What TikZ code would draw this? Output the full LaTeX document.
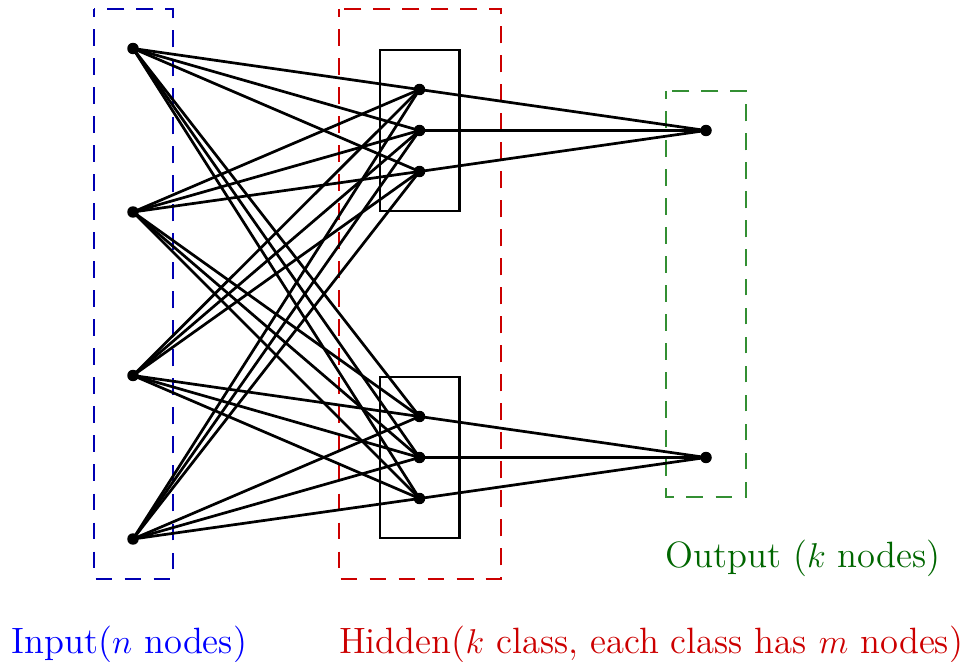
\documentclass[tikz,border=0pt]{standalone}
\usepackage{xcolor}
\begin{document}
\begin{tikzpicture}[x=0.01223cm, y=-0.01223cm,
  dot/.style={circle, fill=black, inner sep=0pt, minimum size=4pt},
  link/.style={line width=0.95pt, black},
  group/.style={line width=1pt, black},
  layerbox/.style={line width=0.7pt, dash pattern=on 5.9pt off 4.2pt, dash phase=3pt},
  caption/.style={inner sep=0pt, anchor=base west, font=\fontsize{12.75}{15}\selectfont}]
  \useasboundingbox (0,0) rectangle (971,662);

  % layer frames
  \draw[layerbox, draw=blue!70!black] (94,9) rectangle (173,579);
  \draw[layerbox, draw=red!80!black] (339,9) rectangle (501,579);
  \draw[layerbox, draw=green!45!black!80] (666,91) rectangle (746,497);

  % class groups in the hidden layer
  \draw[group] (380,50) rectangle (459.5,211);
  \draw[group] (380,377) rectangle (459.5,538);

  % input units
  \node[dot] (i1) at (133,48.5) {};
  \node[dot] (i2) at (133,212) {};
  \node[dot] (i3) at (133,375.5) {};
  \node[dot] (i4) at (133,539) {};

  % hidden units, two classes of three
  \node[dot] (h1) at (419.5,89.5) {};
  \node[dot] (h2) at (419.5,130.5) {};
  \node[dot] (h3) at (419.5,171.5) {};
  \node[dot] (h4) at (419.5,416.5) {};
  \node[dot] (h5) at (419.5,457.5) {};
  \node[dot] (h6) at (419.5,498.5) {};

  % output units
  \node[dot] (o1) at (706,130.5) {};
  \node[dot] (o2) at (706,457.5) {};

  % full connection input -> hidden
  \foreach \i in {1,...,4}
    \foreach \h in {1,...,6}
      \draw[link] (i\i.center) -- (h\h.center);

  % each class feeds its own output
  \foreach \h in {1,2,3}
    \draw[link] (h\h.center) -- (o1.center);
  \foreach \h in {4,5,6}
    \draw[link] (h\h.center) -- (o2.center);

  % captions
  \node[caption, text=blue] (lin) at (11,653) {Input($n$ nodes)};
  \node[caption, text=red!80!black] (lhid) at (338.5,653) {Hidden($k$ class, each class has $m$ nodes)};
  \node[caption, text=green!40!black] (lout) at (665,567) {Output ($k$ nodes)};
\end{tikzpicture}
\end{document}
